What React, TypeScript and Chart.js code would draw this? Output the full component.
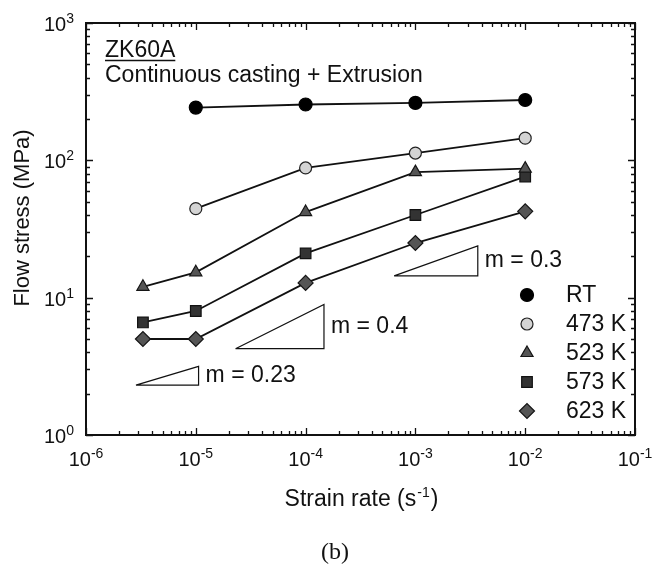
import React, { useEffect, useRef } from 'react';
import { Chart, registerables } from 'chart.js';
import { drawPoint } from 'chart.js/helpers';

Chart.register(...registerables);

// ---- data ----
const seriesLabels = ['RT', '473 K', '523 K', '573 K', '623 K'];
const rtRates = [1e-5, 1e-4, 1e-3, 1e-2];
const rtStress = [242, 255, 262, 275];
const k473Rates = [1e-5, 1e-4, 1e-3, 1e-2];
const k473Stress = [44.5, 88, 113, 145];
const k523Rates = [3.3e-6, 1e-5, 1e-4, 1e-3, 1e-2];
const k523Stress = [12, 15.3, 42, 82, 87];
const k573Rates = [3.3e-6, 1e-5, 1e-4, 1e-3, 1e-2];
const k573Stress = [6.6, 8, 21, 40, 76];
const k623Rates = [3.3e-6, 1e-5, 1e-4, 1e-3, 1e-2];
const k623Stress = [5, 5, 12.8, 25, 42.5];

// slope triangles (m markers)
const slopeLabels = ['m = 0.3', 'm = 0.4', 'm = 0.23'];
const slopeX1 = [6.4e-4, 2.3e-5, 2.85e-6];
const slopeX2 = [3.7e-3, 1.47e-4, 1.06e-5];
const slopeY1 = [14.4, 4.25, 2.31];
const slopeY2 = [23.8, 8.94, 3.16];

// axis ticks
const xTickValues = [1e-6, 1e-5, 1e-4, 1e-3, 1e-2, 1e-1];
const xTickExps = ['-6', '-5', '-4', '-3', '-2', '-1'];
const yTickValues = [1, 10, 100, 1000];
const yTickExps = ['0', '1', '2', '3'];

const titleMain = 'ZK60A';
const titleSub = 'Continuous casting + Extrusion';
const xTitle = 'Strain rate (s';
const xTitleSup = '-1';
const yTitle = 'Flow stress (MPa)';
const panelLabel = '(b)';

const FONT = '"Liberation Sans", Arial, Helvetica, sans-serif';
const SERIF = '"Liberation Serif", "Times New Roman", serif';
const TXT = 23;

const toPts = (xs: number[], ys: number[]) => xs.map((x, i) => ({ x, y: ys[i] }));

const decorPlugin = {
  id: 'decor',
  beforeDatasetsDraw(chart: any) {
    const { ctx, chartArea: a, scales } = chart;
    const xs = scales.x;
    const ys = scales.y;
    ctx.save();
    ctx.strokeStyle = '#111';
    ctx.lineWidth = 1.3;
    ctx.beginPath();
    for (let e = -6; e < -1 + 1e-9; e++) {
      for (let m = 1; m <= 9; m++) {
        const v = m * Math.pow(10, e);
        if (v > 1e-1 * 1.0001) continue;
        const px = Math.round(xs.getPixelForValue(v)) + 0.5;
        const len = m === 1 ? 7 : 4;
        ctx.moveTo(px, a.bottom);
        ctx.lineTo(px, a.bottom - len);
        ctx.moveTo(px, a.top);
        ctx.lineTo(px, a.top + len);
      }
    }
    for (let e = 0; e <= 3; e++) {
      for (let m = 1; m <= 9; m++) {
        const v = m * Math.pow(10, e);
        if (v > 1000 * 1.0001) continue;
        const py = Math.round(ys.getPixelForValue(v)) + 0.5;
        const len = m === 1 ? 7 : 4;
        ctx.moveTo(a.left, py);
        ctx.lineTo(a.left + len, py);
        ctx.moveTo(a.right, py);
        ctx.lineTo(a.right - len, py);
      }
    }
    ctx.stroke();
    ctx.lineWidth = 2;
    ctx.strokeRect(a.left, a.top, a.right - a.left, a.bottom - a.top);
    ctx.restore();
  },
  afterDraw(chart: any) {
    const { ctx, chartArea: a, scales } = chart;
    const xs = scales.x;
    const ys = scales.y;
    ctx.save();
    ctx.fillStyle = '#111';
    ctx.textBaseline = 'alphabetic';

    const supText = (base: string, sup: string, x: number, y: number, align: 'left' | 'center' | 'right', size: number, supSize: number, rise: number) => {
      ctx.font = `${size}px ${FONT}`;
      const wb = ctx.measureText(base).width;
      ctx.font = `${supSize}px ${FONT}`;
      const ws = ctx.measureText(sup).width;
      const total = wb + ws;
      let sx = x;
      if (align === 'center') sx = x - total / 2;
      if (align === 'right') sx = x - total;
      ctx.textAlign = 'left';
      ctx.font = `${size}px ${FONT}`;
      ctx.fillText(base, sx, y);
      ctx.font = `${supSize}px ${FONT}`;
      ctx.fillText(sup, sx + wb, y - rise);
      return sx + total;
    };

    // x tick labels
    xTickValues.forEach((v, i) => {
      const px = xs.getPixelForValue(v);
      supText('10', xTickExps[i], px, a.bottom + 31, 'center', 20, 14, 8);
    });
    // y tick labels
    yTickValues.forEach((v, i) => {
      const py = ys.getPixelForValue(v);
      supText('10', yTickExps[i], a.left - 12, py + 8, 'right', 20, 14, 8);
    });

    // x title
    {
      ctx.font = `${TXT}px ${FONT}`;
      const w1 = ctx.measureText(xTitle).width;
      ctx.font = `14px ${FONT}`;
      const w2 = ctx.measureText(xTitleSup).width;
      ctx.font = `${TXT}px ${FONT}`;
      const w3 = ctx.measureText(')').width;
      const cx = (a.left + a.right) / 2;
      const sx = cx - (w1 + w2 + w3) / 2;
      const by = a.bottom + 71;
      ctx.textAlign = 'left';
      ctx.fillText(xTitle, sx, by);
      ctx.font = `14px ${FONT}`;
      ctx.fillText(xTitleSup, sx + w1 + 1, by - 9);
      ctx.font = `${TXT}px ${FONT}`;
      ctx.fillText(')', sx + w1 + w2 + 2, by);
    }
    // y title
    ctx.save();
    ctx.translate(23, (a.top + a.bottom) / 2 - 11);
    ctx.rotate(-Math.PI / 2);
    ctx.font = `22px ${FONT}`;
    ctx.textAlign = 'center';
    ctx.textBaseline = 'middle';
    ctx.fillText(yTitle, 0, 0);
    ctx.restore();

    // panel title
    ctx.font = `${TXT}px ${FONT}`;
    ctx.textAlign = 'left';
    ctx.textBaseline = 'alphabetic';
    const tx = a.left + 19;
    ctx.fillText(titleMain, tx, a.top + 34);
    const tw = ctx.measureText(titleMain).width;
    ctx.strokeStyle = '#111';
    ctx.lineWidth = 1.5;
    ctx.beginPath();
    ctx.moveTo(tx, a.top + 37.5);
    ctx.lineTo(tx + tw, a.top + 37.5);
    ctx.stroke();
    ctx.fillText(titleSub, tx, a.top + 59);

    // slope labels
    ctx.font = `${TXT}px ${FONT}`;
    ctx.textBaseline = 'middle';
    slopeLabels.forEach((lab, i) => {
      const px = xs.getPixelForValue(slopeX2[i]);
      const py = (ys.getPixelForValue(slopeY1[i]) + ys.getPixelForValue(slopeY2[i])) / 2;
      ctx.fillText(lab, px + 7, py);
    });

    // legend
    const lx = a.left + 441;
    const ly0 = a.top + 272;
    const step = 29;
    chart.data.datasets.forEach((ds: any) => {
      if (!ds.isSeries) return;
      const y = ly0 + ds.seriesIndex * step;
      ctx.fillStyle = ds.pointBackgroundColor;
      ctx.strokeStyle = ds.pointBorderColor;
      ctx.lineWidth = ds.pointBorderWidth;
      drawPoint(ctx, { pointStyle: ds.pointStyle, radius: ds.pointRadius, rotation: 0, borderWidth: ds.pointBorderWidth }, lx, y);
      ctx.fillStyle = '#111';
      ctx.font = `${TXT}px ${FONT}`;
      ctx.textAlign = 'left';
      ctx.textBaseline = 'middle';
      ctx.fillText(ds.label, lx + 39, y + 1);
    });

    // panel label
    ctx.fillStyle = '#111';
    ctx.font = `24px ${SERIF}`;
    ctx.textAlign = 'center';
    ctx.textBaseline = 'alphabetic';
    ctx.fillText(panelLabel, 335, a.bottom + 124);
    ctx.restore();
  },
};

const seriesStyle = [
  { pointStyle: 'circle', pointRadius: 6.5, bg: '#000000', border: '#000000' },
  { pointStyle: 'circle', pointRadius: 6, bg: '#d4d4d4', border: '#222222' },
  { pointStyle: 'triangle', pointRadius: 7, bg: '#555555', border: '#151515' },
  { pointStyle: 'rect', pointRadius: 7.5, bg: '#333333', border: '#111111' },
  { pointStyle: 'rectRot', pointRadius: 7.5, bg: '#555555', border: '#151515' },
];

export default function App() {
  const ref = useRef<HTMLCanvasElement | null>(null);
  useEffect(() => {
    if (!ref.current) return;
    const seriesData = [
      toPts(rtRates, rtStress),
      toPts(k473Rates, k473Stress),
      toPts(k523Rates, k523Stress),
      toPts(k573Rates, k573Stress),
      toPts(k623Rates, k623Stress),
    ];
    const seriesDatasets = seriesData.map((d, i) => ({
      label: seriesLabels[i],
      data: d,
      isSeries: true,
      seriesIndex: i,
      showLine: true,
      borderColor: '#111',
      borderWidth: 1.8,
      pointStyle: seriesStyle[i].pointStyle,
      pointRadius: seriesStyle[i].pointRadius,
      pointBackgroundColor: seriesStyle[i].bg,
      pointBorderColor: seriesStyle[i].border,
      pointBorderWidth: 1.2,
      pointHoverRadius: seriesStyle[i].pointRadius,
      order: 1,
    }));
    const slopeDatasets = slopeLabels.map((lab, i) => ({
      label: lab,
      data: [
        { x: slopeX1[i], y: slopeY1[i] },
        { x: slopeX2[i], y: slopeY1[i] },
        { x: slopeX2[i], y: slopeY2[i] },
        { x: slopeX1[i], y: slopeY1[i] },
      ],
      showLine: true,
      borderColor: '#111',
      borderWidth: 1.2,
      pointRadius: 0,
      pointHoverRadius: 0,
      fill: false,
      order: 2,
    }));
    const chart = new Chart(ref.current, {
      type: 'scatter',
      data: { datasets: [...slopeDatasets, ...seriesDatasets] as any },
      options: {
        responsive: false,
        animation: false,
        events: [],
        layout: { padding: { left: 86, top: 23, right: 32, bottom: 131 } },
        plugins: { legend: { display: false }, tooltip: { enabled: false } },
        scales: {
          x: { type: 'logarithmic', min: 1e-6, max: 1e-1, display: false },
          y: { type: 'logarithmic', min: 1, max: 1000, display: false },
        },
      },
      plugins: [decorPlugin as any],
    });
    return () => chart.destroy();
  }, []);
  return (
    <div style={{ position: 'absolute', left: 0, top: 0, width: 667, height: 566, background: '#fff' }}>
      <canvas ref={ref} width={667} height={566} style={{ width: 667, height: 566 }} />
    </div>
  );
}
